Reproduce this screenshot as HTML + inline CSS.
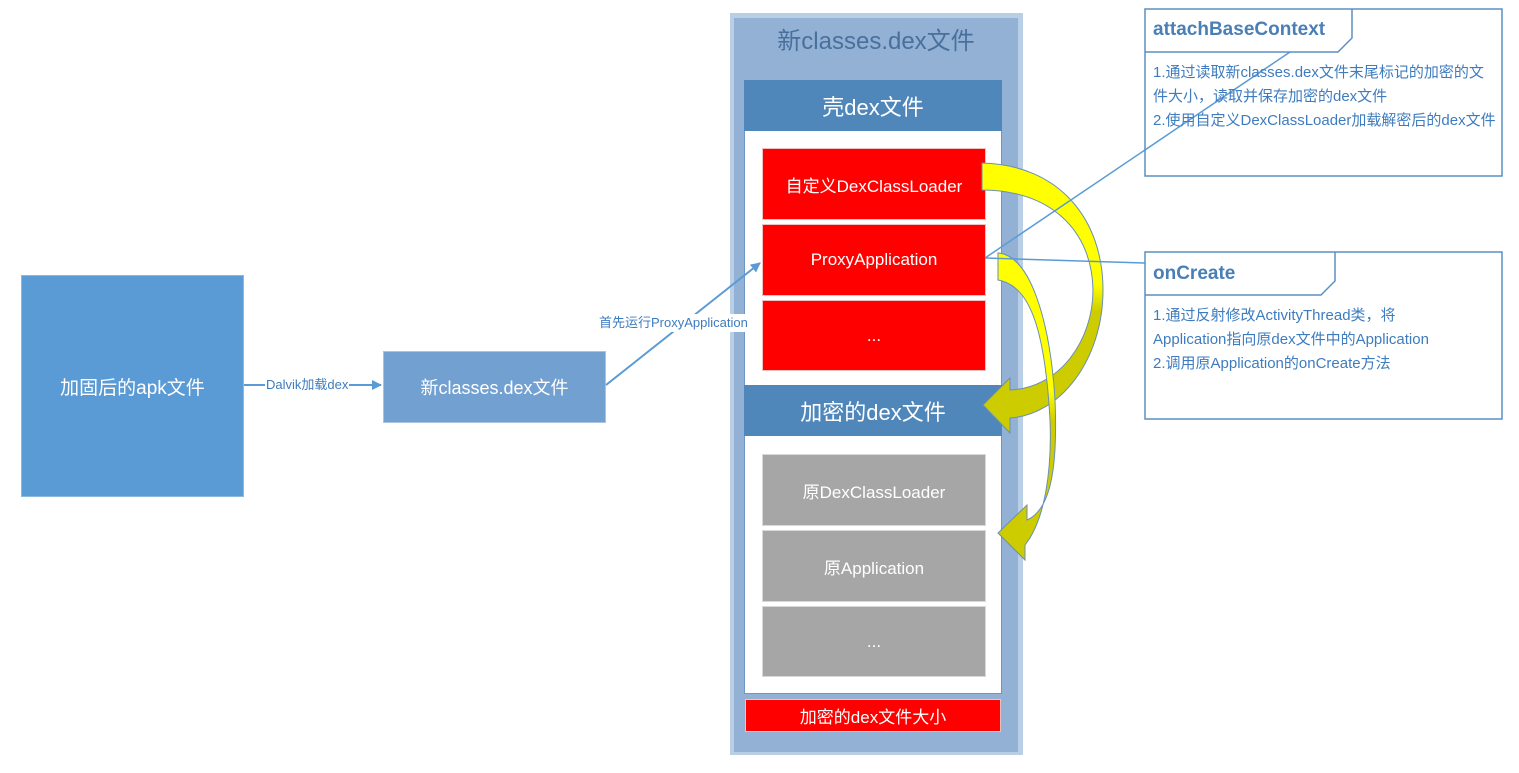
<!DOCTYPE html>
<html><head><meta charset="utf-8"><style>
body{margin:0;background:#fff;width:1519px;height:773px;overflow:hidden;position:relative;font-family:"Liberation Sans","Noto Sans CJK SC",sans-serif}
.b{position:absolute;display:flex;align-items:center;justify-content:center;color:#fff;box-sizing:border-box}
.r{background:#f00;border:1px solid #f3c0c0;font-size:17px}
.g{background:#a6a6a6;border:1px solid #d8d8d8;font-size:17px}
.t{position:absolute;color:#3e7cbf;font-size:15px;line-height:24px}
</style></head><body>
<div class="b" style="left:21px;top:275px;width:223px;height:222px;background:#5b9bd5;border:1px solid #8db8e0;font-size:19px">加固后的apk文件</div>
<div class="b" style="left:383px;top:351px;width:223px;height:72px;background:#72a0d0;border:1px solid #a8c4e2;font-size:18px">新classes.dex文件</div>
<div style="position:absolute;left:730px;top:13px;width:293px;height:742px;background:#b8cfe6"></div>
<div style="position:absolute;left:734px;top:18px;width:284px;height:734px;background:#92b1d4"></div>
<div class="b" style="left:734px;top:18px;width:284px;height:40px;color:#49709c;font-size:24px">新classes.dex文件</div>
<div style="position:absolute;left:744px;top:80px;width:258px;height:614px;background:#fff;border:1px solid #6e96c2;box-sizing:border-box"></div>
<div class="b" style="left:744px;top:80px;width:258px;height:51px;background:#4f87bb;font-size:22px">壳dex文件</div>
<div class="b r" style="left:762px;top:148px;width:224px;height:72px">自定义DexClassLoader</div>
<div class="b r" style="left:762px;top:224px;width:224px;height:72px">ProxyApplication</div>
<div class="b r" style="left:762px;top:300px;width:224px;height:71px">...</div>
<div class="b" style="left:744px;top:385px;width:258px;height:51px;background:#4f87bb;font-size:22px">加密的dex文件</div>
<div class="b g" style="left:762px;top:454px;width:224px;height:72px">原DexClassLoader</div>
<div class="b g" style="left:762px;top:530px;width:224px;height:72px">原Application</div>
<div class="b g" style="left:762px;top:606px;width:224px;height:71px">...</div>
<div class="b" style="left:745px;top:699px;width:256px;height:33px;background:#f00;border:1px solid #f3c0c0;font-size:17px">加密的dex文件大小</div>

<svg width="1519" height="773" style="position:absolute;left:0;top:0">
<defs>
<linearGradient id="y1" x1="0" y1="0" x2="0" y2="1"><stop offset="0.45" stop-color="#ffff00"/><stop offset="0.55" stop-color="#cccc00"/></linearGradient>
<marker id="ah" markerWidth="10" markerHeight="10" refX="9" refY="5" orient="auto" markerUnits="userSpaceOnUse"><path d="M0,0 L10,5 L0,10 Z" fill="#5b9bd5"/></marker>
</defs>
<path d="M982,163 C1060,165 1103,220 1103,290 C1103,360 1060,415 1010,418 L1010,433 L983,405 L1010,378 L1010,390 C1060,388 1093,340 1093,290 C1092,230 1050,190 982,190 Z" fill="url(#y1)" stroke="#6a8fb5" stroke-width="1"/>
<path d="M998,253 C1030,255 1050,320 1055,400 C1058,470 1050,510 1027,520 L1027,505 L998,533 L1025,560 L1025,545 C1045,520 1052,470 1050,420 C1045,330 1030,285 998,280 Z" fill="url(#y1)" stroke="#6a8fb5" stroke-width="1"/>
<line x1="244" y1="385" x2="381" y2="385" stroke="#5b9bd5" stroke-width="2" marker-end="url(#ah)"/>
<line x1="606" y1="385" x2="760" y2="263" stroke="#5b9bd5" stroke-width="2" marker-end="url(#ah)"/>
<line x1="985" y1="258" x2="1145" y2="263" stroke="#5b9bd5" stroke-width="1.5"/>
<line x1="985" y1="258" x2="1290" y2="52" stroke="#5b9bd5" stroke-width="1.5"/>
<rect x="1145" y="9" width="357" height="167" fill="none" stroke="#5b8fc4" stroke-width="1.5"/>
<path d="M1145,52 L1338,52 L1352,38 L1352,9" fill="none" stroke="#5b8fc4" stroke-width="1.5"/>
<rect x="1145" y="252" width="357" height="167" fill="none" stroke="#5b8fc4" stroke-width="1.5"/>
<path d="M1145,295 L1321,295 L1335,281 L1335,252" fill="none" stroke="#5b8fc4" stroke-width="1.5"/>
</svg>
<div style="position:absolute;left:265px;top:377px;background:#fff;color:#3e7cbf;font-size:13px;line-height:16px;padding:0 1px">Dalvik加载dex</div>
<div style="position:absolute;left:597px;top:314px;background:#fff;color:#3e7cbf;font-size:13px;line-height:18px;padding:0 2px">首先运行ProxyApplication</div>
<div class="t" style="left:1153px;top:18px;font-size:19px;font-weight:bold;color:#4a7fb6">attachBaseContext</div>
<div class="t" style="left:1153px;top:61px;width:345px">1.通过读取新classes.dex文件末尾标记的加密的文件大小，读取并保存加密的dex文件<br>2.使用自定义DexClassLoader加载解密后的dex文件</div>
<div class="t" style="left:1153px;top:262px;font-size:19px;font-weight:bold;color:#4a7fb6">onCreate</div>
<div class="t" style="left:1153px;top:304px;width:345px">1.通过反射修改ActivityThread类，将<br>Application指向原dex文件中的Application<br>2.调用原Application的onCreate方法</div>
</body></html>
